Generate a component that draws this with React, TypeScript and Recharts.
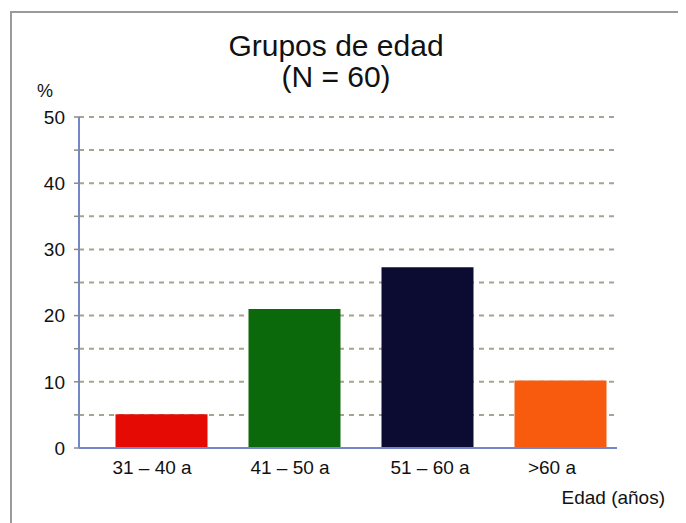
import React from "react";
import { BarChart, Bar, XAxis, YAxis, CartesianGrid, Cell } from "recharts";

const categories = ["31 – 40 a", "41 – 50 a", "51 – 60 a", ">60 a"];
const percentages = [5.1, 21.0, 27.3, 10.2];
const yTicks = [0, 5, 10, 15, 20, 25, 30, 35, 40, 45, 50];
const barColors = ["#e60a05", "#0b690b", "#0c0c32", "#f85a0e"];
const labelShift = [-9, -4, 3, -8];

const data = categories.map((c, i) => ({ name: c, value: percentages[i] }));

const FONT = "'Liberation Sans', Arial, sans-serif";

const XTick = (props: any) => {
  const { x, y, payload, index } = props;
  return (
    <text
      x={x + (labelShift[index] ?? 0)}
      y={y + 26}
      textAnchor="middle"
      fontSize={19}
      fontFamily={FONT}
      fill="#111"
    >
      {payload.value}
    </text>
  );
};

export default function App() {
  const W = 678;
  const H = 515;
  return (
    <div style={{ position: "relative", width: W, height: H, overflow: "hidden", background: "#fff" }}>
      <div
        style={{
          position: "absolute",
          left: 2,
          top: 3,
          width: 800,
          height: 700,
          borderLeft: "2px solid #9a9a9a",
          borderTop: "2px solid #9a9a9a",
        }}
      />
      <div style={{ position: "absolute", left: 0, top: 0 }}>
        <BarChart
          width={W}
          height={H}
          data={data}
          margin={{ top: 109, right: 69, bottom: 45, left: 31 }}
        >
          <CartesianGrid
            horizontal
            vertical={false}
            stroke="#a8a390"
            strokeWidth={2}
            strokeDasharray="5 5"
          />
          <XAxis
            dataKey="name"
            height={30}
            axisLine={{ stroke: "#7386c6", strokeWidth: 2 }}
            tickLine={false}
            tickSize={0}
            tickMargin={0}
            tick={<XTick />}
            padding={{ left: 15.5, right: -9.5 }}
            interval={0}
          />
          <YAxis
            width={40}
            domain={[0, 50]}
            ticks={yTicks}
            interval={0}
            axisLine={{ stroke: "#7386c6", strokeWidth: 2 }}
            tickLine={{ stroke: "#8a8a8a", strokeWidth: 1.5 }}
            tickSize={5}
            tickMargin={9}
            tickFormatter={(v: number) => (v % 10 === 0 ? String(v) : "")}
            tick={{ fontSize: 19, fontFamily: FONT, fill: "#111" }}
          />
          <Bar dataKey="value" barSize={92} isAnimationActive={false}>
            {data.map((d, i) => (
              <Cell key={d.name} fill={barColors[i]} />
            ))}
          </Bar>
        </BarChart>
      </div>
      <svg
        width={W}
        height={H}
        style={{ position: "absolute", left: 0, top: 0, pointerEvents: "none" }}
      >
        <text x={328} y={48} textAnchor="middle" fontSize={30} fontFamily={FONT} fill="#111">
          Grupos de edad
        </text>
        <text x={328} y={79} textAnchor="middle" fontSize={30} fontFamily={FONT} fill="#111">
          (N = 60)
        </text>
        <text x={29} y={89} fontSize={18} fontFamily={FONT} fill="#111">
          %
        </text>
        <text x={657} y={496} textAnchor="end" fontSize={19} fontFamily={FONT} fill="#111">
          Edad (años)
        </text>
      </svg>
    </div>
  );
}
